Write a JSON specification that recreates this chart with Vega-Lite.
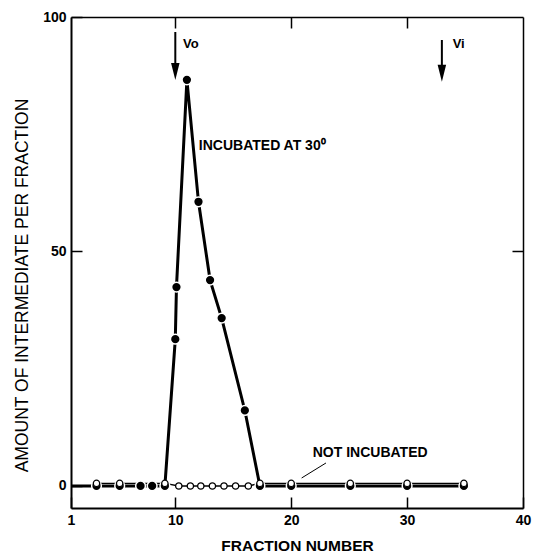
{
  "$schema": "https://vega.github.io/schema/vega-lite/v6.json",
  "width": 452,
  "height": 491,
  "autosize": {"type": "none"},
  "padding": {"left": 71, "top": 17, "right": 12, "bottom": 44},
  "background": "white",
  "config": {
    "view": {"stroke": null},
    "font": "Liberation Sans",
    "axis": {"domainColor": "black", "tickColor": "black", "labelColor": "black", "titleColor": "black", "grid": false, "labelFont": "Liberation Sans", "titleFont": "Liberation Sans"}
  },
  "datasets": {
    "inc": [
      {"fraction": 1, "amount": 0},
      {"fraction": 3.2, "amount": 0},
      {"fraction": 5.2, "amount": 0},
      {"fraction": 7, "amount": 0},
      {"fraction": 8, "amount": 0},
      {"fraction": 9.1, "amount": 0},
      {"fraction": 10, "amount": 31.3},
      {"fraction": 10.1, "amount": 42.4},
      {"fraction": 11, "amount": 86.6},
      {"fraction": 12, "amount": 60.6},
      {"fraction": 13, "amount": 43.9},
      {"fraction": 14, "amount": 35.8},
      {"fraction": 16, "amount": 16.1},
      {"fraction": 17.3, "amount": 0},
      {"fraction": 20, "amount": 0},
      {"fraction": 25.1, "amount": 0},
      {"fraction": 30, "amount": 0},
      {"fraction": 34.9, "amount": 0}
    ],
    "notinc": [
      {"fraction": 3.2, "amount": 0.55},
      {"fraction": 5.2, "amount": 0.55},
      {"fraction": 9.1, "amount": 0.55},
      {"fraction": 10.3, "amount": 0},
      {"fraction": 11.3, "amount": 0},
      {"fraction": 12.2, "amount": 0},
      {"fraction": 13.2, "amount": 0},
      {"fraction": 14.2, "amount": 0},
      {"fraction": 15.2, "amount": 0},
      {"fraction": 16.3, "amount": 0},
      {"fraction": 17.3, "amount": 0.55},
      {"fraction": 20, "amount": 0.55},
      {"fraction": 25.1, "amount": 0.55},
      {"fraction": 30, "amount": 0.55},
      {"fraction": 34.9, "amount": 0.55}
    ],
    "arrows": [
      {"label": "Vo", "fraction": 10, "top": 96.8, "bottom": 88.7, "head": 88.4},
      {"label": "Vi", "fraction": 33, "top": 95.1, "bottom": 88.3, "head": 88.0}
    ],
    "labels": [
      {"fraction": 10.66, "amount": 93.4, "text": "Vo", "size": "small"},
      {"fraction": 33.93, "amount": 93.4, "text": "Vi", "size": "small"},
      {"fraction": 12.03, "amount": 71.6, "text": "INCUBATED AT 30⁰", "size": "big"},
      {"fraction": 21.86, "amount": 6.2, "text": "NOT INCUBATED", "size": "big"}
    ],
    "leader": [
      {"fraction": 20.9, "amount": 1.7, "fraction2": 23.0, "amount2": 4.9}
    ]
  },
  "layer": [
    {
      "data": {"name": "inc"},
      "mark": {"type": "line", "color": "black", "strokeWidth": 3},
      "encoding": {
        "x": {"field": "fraction", "type": "quantitative", "scale": {"domain": [1, 40], "nice": false, "zero": false},
          "axis": {"orient": "bottom", "values": [1, 10, 20, 30, 40], "format": "d", "labelFontSize": 14, "labelFontWeight": "bold", "labelFlush": false, "labelOverlap": false, "labelPadding": 16, "tickSize": -11, "tickWidth": 1.5, "domainWidth": 2, "title": "FRACTION NUMBER", "titleFontSize": 15.5, "titleFontWeight": "bold", "titleY": 37, "titleBaseline": "middle"}},
        "y": {"field": "amount", "type": "quantitative", "scale": {"domain": [-4.7, 100], "nice": false, "zero": false},
          "axis": {"orient": "left", "values": [0, 50, 100], "labelFontSize": 14, "labelFontWeight": "bold", "labelOverlap": false, "labelFlush": false, "labelPadding": 16, "tickSize": -11, "tickWidth": 1.5, "domainWidth": 2, "title": "AMOUNT OF INTERMEDIATE PER FRACTION", "titleFontSize": 17.5, "titleFontWeight": "normal", "titleX": -49, "titleY": 268, "titleBaseline": "middle", "titleAlign": "center"}},
        "order": {"field": "fraction", "type": "quantitative"}
      }
    },
    {
      "data": {"name": "notinc"},
      "mark": {"type": "line", "color": "black", "strokeWidth": 1.4},
      "encoding": {
        "x": {"field": "fraction", "type": "quantitative", "scale": {"domain": [1, 40], "nice": false, "zero": false},
          "axis": {"orient": "top", "values": [10, 20, 30], "labels": false, "tickSize": -11, "tickWidth": 1.5, "domainWidth": 1.5, "title": null}},
        "y": {"field": "amount", "type": "quantitative", "scale": {"domain": [-4.7, 100], "nice": false, "zero": false},
          "axis": {"orient": "right", "values": [50], "labels": false, "tickSize": -11, "tickWidth": 1.5, "domainWidth": 1.5, "title": null}},
        "order": {"field": "fraction", "type": "quantitative"}
      }
    },
    {
      "data": {"name": "inc"},
      "transform": [{"filter": "datum.fraction > 1"}],
      "mark": {"type": "point", "shape": "circle", "filled": true, "fill": "black", "stroke": "white", "strokeWidth": 1.5, "size": 95, "opacity": 1},
      "encoding": {
        "x": {"field": "fraction", "type": "quantitative", "axis": null},
        "y": {"field": "amount", "type": "quantitative", "axis": null}
      }
    },
    {
      "data": {"name": "notinc"},
      "mark": {"type": "point", "shape": "circle", "filled": false, "fill": "white", "fillOpacity": 1, "stroke": "black", "strokeWidth": 1.3, "size": 40, "opacity": 1},
      "encoding": {
        "x": {"field": "fraction", "type": "quantitative", "axis": null},
        "y": {"field": "amount", "type": "quantitative", "axis": null}
      }
    },
    {
      "data": {"name": "arrows"},
      "mark": {"type": "rule", "color": "black", "strokeWidth": 2},
      "encoding": {
        "x": {"field": "fraction", "type": "quantitative", "axis": null},
        "y": {"field": "top", "type": "quantitative", "axis": null},
        "y2": {"field": "bottom"}
      }
    },
    {
      "data": {"name": "arrows"},
      "mark": {"type": "point", "shape": "M-0.5,-1L0.5,-1L0,1Z", "filled": true, "fill": "black", "strokeWidth": 0, "size": 289, "opacity": 1},
      "encoding": {
        "x": {"field": "fraction", "type": "quantitative", "axis": null},
        "y": {"field": "head", "type": "quantitative", "axis": null}
      }
    },
    {
      "data": {"name": "leader"},
      "mark": {"type": "rule", "color": "black", "strokeWidth": 1},
      "encoding": {
        "x": {"field": "fraction", "type": "quantitative", "axis": null},
        "y": {"field": "amount", "type": "quantitative", "axis": null},
        "x2": {"field": "fraction2"},
        "y2": {"field": "amount2"}
      }
    },
    {
      "data": {"name": "labels"},
      "transform": [{"filter": "datum.size == 'small'"}],
      "mark": {"type": "text", "align": "left", "baseline": "alphabetic", "font": "Liberation Sans", "fontWeight": "bold", "fontSize": 13, "color": "black"},
      "encoding": {
        "x": {"field": "fraction", "type": "quantitative", "axis": null},
        "y": {"field": "amount", "type": "quantitative", "axis": null},
        "text": {"field": "text"}
      }
    },
    {
      "data": {"name": "labels"},
      "transform": [{"filter": "datum.size == 'big'"}],
      "mark": {"type": "text", "align": "left", "baseline": "alphabetic", "font": "Liberation Sans", "fontWeight": "bold", "fontSize": 14, "color": "black"},
      "encoding": {
        "x": {"field": "fraction", "type": "quantitative", "axis": null},
        "y": {"field": "amount", "type": "quantitative", "axis": null},
        "text": {"field": "text"}
      }
    }
  ],
  "resolve": {"axis": {"x": "independent", "y": "independent"}}
}
